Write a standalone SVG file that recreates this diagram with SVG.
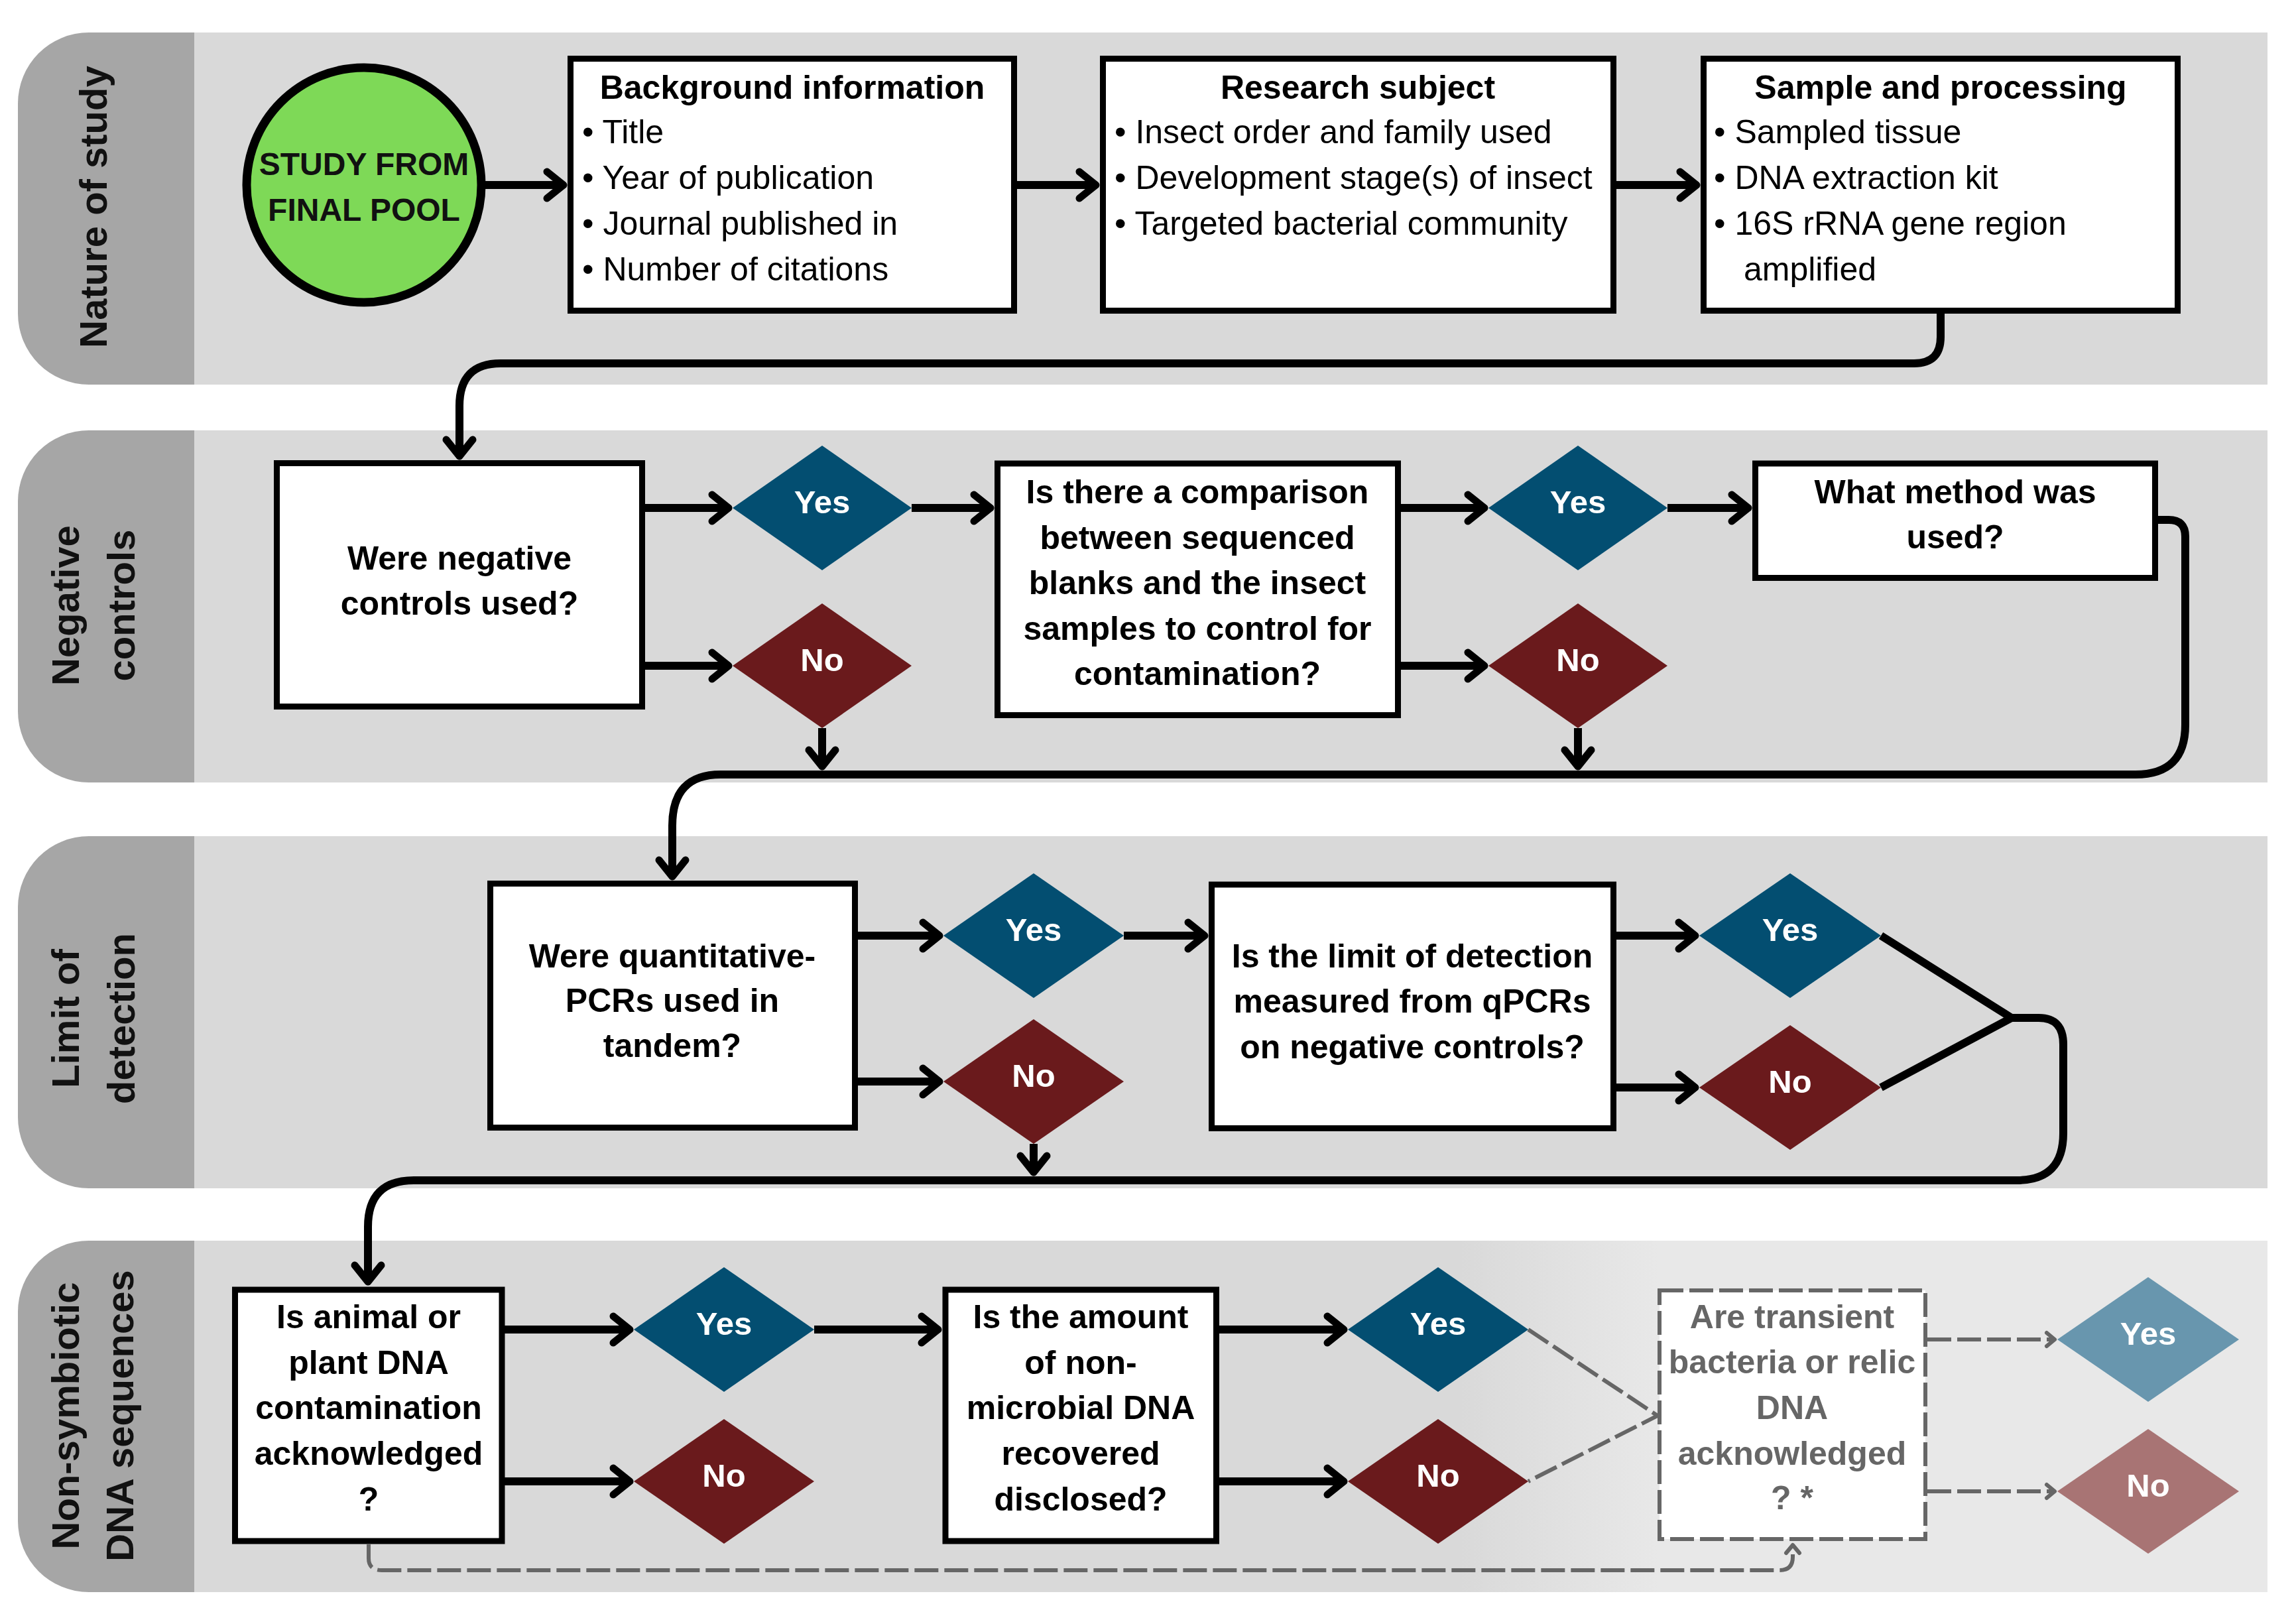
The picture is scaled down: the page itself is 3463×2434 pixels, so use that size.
<svg xmlns="http://www.w3.org/2000/svg" width="3463" height="2434" viewBox="0 0 3463 2434">
<style>
text{font-family:"Liberation Sans",Arial,Helvetica,sans-serif}
.lane{fill:#d9d9d9}
.lab{fill:#a6a6a6}
.lt{font-size:58px;font-weight:bold;fill:#111;text-anchor:middle}
.box{fill:#fff;stroke:#000;stroke-width:9}
.dbox{fill:#fff;stroke:#666;stroke-width:6;stroke-dasharray:36 9}
.h{font-size:50px;font-weight:bold;text-anchor:middle;fill:#000}
.b{font-size:50px;fill:#000}
.q{font-size:50px;font-weight:bold;text-anchor:middle;fill:#000}
.qg{font-size:50px;font-weight:bold;text-anchor:middle;fill:#666}
.yes{fill:#034e71}
.no{fill:#6a1a1c}
.yesl{fill:#6896ae}
.nol{fill:#a87474}
.dt{font-size:49px;font-weight:bold;fill:#fff;text-anchor:middle}
.c{fill:none;stroke:#000;stroke-width:12;stroke-linejoin:round}
.a{marker-end:url(#ah)}
.d{fill:none;stroke:#666;stroke-width:6;stroke-dasharray:36 9}
.da{marker-end:url(#dh)}
</style>
<defs>
<marker id="ah" markerUnits="userSpaceOnUse" markerWidth="80" markerHeight="80" viewBox="-40 -40 80 80" refX="0" refY="0" orient="auto" overflow="visible">
<path d="M-25 -20 L0 0 L-25 20" fill="none" stroke="#000" stroke-width="11" stroke-linecap="round" stroke-linejoin="round"/>
</marker>
<marker id="dh" markerUnits="userSpaceOnUse" markerWidth="40" markerHeight="40" viewBox="-20 -20 40 40" refX="0" refY="0" orient="auto" overflow="visible">
<path d="M-12 -10 L0 0 L-12 10" fill="none" stroke="#666" stroke-width="6" stroke-linecap="round" stroke-linejoin="round"/>
</marker>
<linearGradient id="fade" gradientUnits="userSpaceOnUse" x1="2200" y1="0" x2="2500" y2="0">
<stop offset="0" stop-color="#d9d9d9"/>
<stop offset="1" stop-color="#e8e8e8"/>
</linearGradient>
</defs>

<g id="lanes">
<g id="lane1">
<rect class="lane" x="293" y="49" width="3127" height="531"/>
<path class="lab" d="M293 49 H134 A107 107 0 0 0 27 156 V473 A107 107 0 0 0 134 580 H293 Z"/>
<text class="lt" transform="translate(161 312) rotate(-90)">Nature of study</text>
</g>
<g id="lane2">
<rect class="lane" x="293" y="649" width="3127" height="531"/>
<path class="lab" d="M293 649 H134 A107 107 0 0 0 27 756 V1073 A107 107 0 0 0 134 1180 H293 Z"/>
<text class="lt" transform="translate(119 913) rotate(-90)">Negative</text>
<text class="lt" transform="translate(203 913) rotate(-90)">controls</text>
</g>
<g id="lane3">
<rect class="lane" x="293" y="1261" width="3127" height="531"/>
<path class="lab" d="M293 1261 H134 A107 107 0 0 0 27 1368 V1685 A107 107 0 0 0 134 1792 H293 Z"/>
<text class="lt" transform="translate(119 1536) rotate(-90)">Limit of</text>
<text class="lt" transform="translate(203 1536) rotate(-90)">detection</text>
</g>
<g id="lane4">
<rect x="293" y="1871" width="3127" height="530" fill="url(#fade)"/>
<path class="lab" d="M293 1871 H134 A107 107 0 0 0 27 1978 V2294 A107 107 0 0 0 134 2401 H293 Z"/>
<text class="lt" transform="translate(119 2135) rotate(-90)">Non-symbiotic</text>
<text class="lt" transform="translate(201 2135) rotate(-90)">DNA sequences</text>
</g>
</g>

<g id="connectors">
<path class="c a" d="M560 279 H850"/>
<path class="c a" d="M1534 279 H1653"/>
<path class="c a" d="M2438 279 H2559"/>
<path class="c a" d="M2927 473 V508 Q2927 548 2887 548 H755 Q693 548 693 612 V688"/>

<path class="c a" d="M973 766 H1099"/>
<path class="c a" d="M973 1004 H1099"/>
<path class="c a" d="M1375 766 H1494"/>
<path class="c a" d="M1240 1098 V1156"/>
<path class="c a" d="M2113 766 H2239"/>
<path class="c a" d="M2113 1004 H2239"/>
<path class="c a" d="M2515 766 H2637"/>
<path class="c a" d="M2380 1098 V1156"/>
<path class="c a" d="M3255 784 H3271 Q3296 784 3296 809 V1093 Q3296 1168 3221 1168 H1087 Q1014 1168 1014 1245 V1322"/>

<path class="c a" d="M1294 1411 H1417"/>
<path class="c a" d="M1294 1631 H1417"/>
<path class="c a" d="M1695 1411 H1817"/>
<path class="c a" d="M1559 1725 V1768"/>
<path class="c a" d="M2438 1411 H2557"/>
<path class="c a" d="M2438 1640 H2557"/>
<path class="c" d="M2837 1411 L3034 1535 L2837 1640"/>
<path class="c a" d="M3030 1535 H3075 Q3112 1535 3112 1575 V1709 Q3112 1780 3042 1780 H624 Q555 1780 555 1850 V1933"/>

<path class="c a" d="M761 2005 H950"/>
<path class="c a" d="M761 2234 H950"/>
<path class="c a" d="M1228 2005 H1415"/>
<path class="c a" d="M1839 2005 H2027"/>
<path class="c a" d="M1839 2234 H2027"/>

<path class="d" d="M2305 2005 L2500 2135 L2305 2234"/>
<path class="d da" d="M2907 2020 H3099"/>
<path class="d da" d="M2907 2249 H3099"/>
<path class="d da" d="M556 2329 V2350 Q556 2368 576 2368 H2684 Q2704 2368 2704 2348 V2330"/>
</g>

<g id="start">
<circle cx="549" cy="279" r="177" fill="#7ed957" stroke="#000" stroke-width="13"/>
<text class="q" x="549" y="264" style="fill:#111;font-size:48px">STUDY FROM</text>
<text class="q" x="549" y="333" style="fill:#111;font-size:48px">FINAL POOL</text>
</g>

<g id="background">
<rect class="box" x="860.5" y="88.5" width="669" height="380"/>
<text class="h" x="1195" y="149">Background information</text>
<text class="b" x="878" y="216">• Title</text>
<text class="b" x="878" y="285">• Year of publication</text>
<text class="b" x="878" y="354">• Journal published in</text>
<text class="b" x="878" y="423">• Number of citations</text>
</g>

<g id="research">
<rect class="box" x="1663.5" y="88.5" width="770" height="380"/>
<text class="h" x="2048" y="149">Research subject</text>
<text class="b" x="1681" y="216">• Insect order and family used</text>
<text class="b" x="1681" y="285">• Development stage(s) of insect</text>
<text class="b" x="1681" y="354">• Targeted bacterial community</text>
</g>

<g id="sample">
<rect class="box" x="2569.5" y="88.5" width="715" height="380"/>
<text class="h" x="2927" y="149">Sample and processing</text>
<text class="b" x="2585" y="216">• Sampled tissue</text>
<text class="b" x="2585" y="285">• DNA extraction kit</text>
<text class="b" x="2585" y="354">• 16S rRNA gene region</text>
<text class="b" x="2630" y="423">amplified</text>
</g>

<g id="negative">
<rect class="box" x="417.5" y="698.5" width="551" height="367"/>
<text class="q" x="693" y="859">Were negative</text>
<text class="q" x="693" y="927">controls used?</text>
</g>
<g id="yes1"><polygon class="yes" points="1105,766 1240,672 1375,766 1240,860"/><text class="dt" x="1240" y="774">Yes</text></g>
<g id="no1"><polygon class="no" points="1105,1004 1240,910 1375,1004 1240,1098"/><text class="dt" x="1240" y="1012">No</text></g>

<g id="comparison">
<rect class="box" x="1504.5" y="699" width="604" height="379.5"/>
<text class="q" x="1806" y="759">Is there a comparison</text>
<text class="q" x="1806" y="828">between sequenced</text>
<text class="q" x="1806" y="896">blanks and the insect</text>
<text class="q" x="1806" y="965">samples to control for</text>
<text class="q" x="1806" y="1033">contamination?</text>
</g>
<g id="yes2"><polygon class="yes" points="2245,766 2380,672 2515,766 2380,860"/><text class="dt" x="2380" y="774">Yes</text></g>
<g id="no2"><polygon class="no" points="2245,1004 2380,910 2515,1004 2380,1098"/><text class="dt" x="2380" y="1012">No</text></g>

<g id="method">
<rect class="box" x="2647.5" y="699" width="603" height="172.5"/>
<text class="q" x="2949" y="759">What method was</text>
<text class="q" x="2949" y="827">used?</text>
</g>

<g id="qpcr">
<rect class="box" x="739.5" y="1332.5" width="550" height="368"/>
<text class="q" x="1014" y="1459">Were quantitative-</text>
<text class="q" x="1014" y="1526">PCRs used in</text>
<text class="q" x="1014" y="1594">tandem?</text>
</g>
<g id="yes3"><polygon class="yes" points="1423,1411 1559,1317 1695,1411 1559,1505"/><text class="dt" x="1559" y="1419">Yes</text></g>
<g id="no3"><polygon class="no" points="1423,1631 1559,1537 1695,1631 1559,1725"/><text class="dt" x="1559" y="1639">No</text></g>

<g id="lod">
<rect class="box" x="1827.5" y="1334" width="606" height="367.5"/>
<text class="q" x="2130" y="1459">Is the limit of detection</text>
<text class="q" x="2130" y="1527">measured from qPCRs</text>
<text class="q" x="2130" y="1596">on negative controls?</text>
</g>
<g id="yes4"><polygon class="yes" points="2563,1411 2700,1317 2837,1411 2700,1505"/><text class="dt" x="2700" y="1419">Yes</text></g>
<g id="no4"><polygon class="no" points="2563,1640 2700,1546 2837,1640 2700,1734"/><text class="dt" x="2700" y="1648">No</text></g>

<g id="animal">
<rect class="box" x="354.5" y="1945" width="402.5" height="379"/>
<text class="q" x="556" y="2003">Is animal or</text>
<text class="q" x="556" y="2072">plant DNA</text>
<text class="q" x="556" y="2140">contamination</text>
<text class="q" x="556" y="2209">acknowledged</text>
<text class="q" x="556" y="2278">?</text>
</g>
<g id="yes5"><polygon class="yes" points="956,2005 1092,1911 1228,2005 1092,2099"/><text class="dt" x="1092" y="2013">Yes</text></g>
<g id="no5"><polygon class="no" points="956,2234 1092,2140 1228,2234 1092,2328"/><text class="dt" x="1092" y="2242">No</text></g>

<g id="amount">
<rect class="box" x="1426" y="1945" width="408.5" height="379"/>
<text class="q" x="1630" y="2003">Is the amount</text>
<text class="q" x="1630" y="2072">of non-</text>
<text class="q" x="1630" y="2140">microbial DNA</text>
<text class="q" x="1630" y="2209">recovered</text>
<text class="q" x="1630" y="2278">disclosed?</text>
</g>
<g id="yes6"><polygon class="yes" points="2033,2005 2169,1911 2305,2005 2169,2099"/><text class="dt" x="2169" y="2013">Yes</text></g>
<g id="no6"><polygon class="no" points="2033,2234 2169,2140 2305,2234 2169,2328"/><text class="dt" x="2169" y="2242">No</text></g>

<g id="transient">
<rect class="dbox" x="2503" y="1946" width="401" height="375"/>
<text class="qg" x="2703" y="2003">Are transient</text>
<text class="qg" x="2703" y="2071">bacteria or relic</text>
<text class="qg" x="2703" y="2140">DNA</text>
<text class="qg" x="2703" y="2209">acknowledged</text>
<text class="qg" x="2703" y="2276">? *</text>
</g>
<g id="yes7"><polygon class="yesl" points="3103,2020 3240,1926 3377,2020 3240,2114"/><text class="dt" x="3240" y="2028">Yes</text></g>
<g id="no7"><polygon class="nol" points="3103,2249 3240,2155 3377,2249 3240,2343"/><text class="dt" x="3240" y="2257">No</text></g>
</svg>
